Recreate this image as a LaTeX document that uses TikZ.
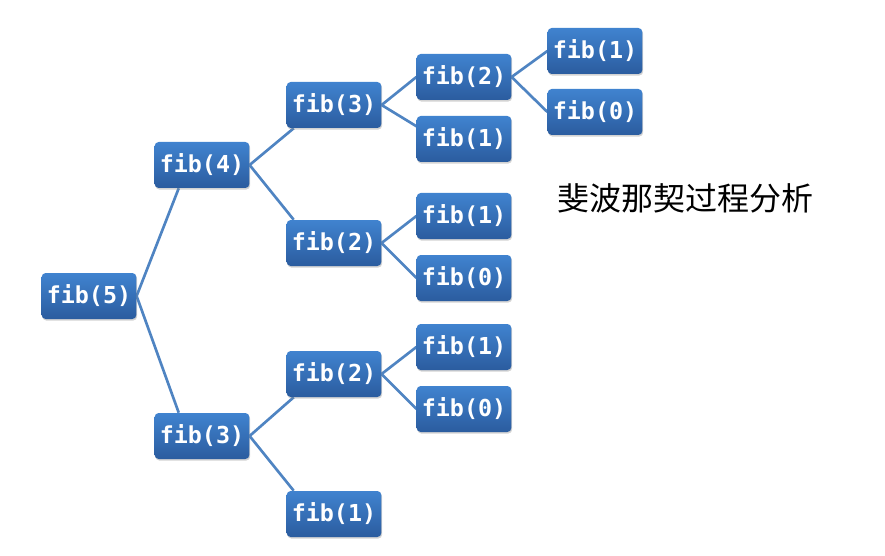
\documentclass[tikz,border=0pt]{standalone}
\usepackage{fontspec}
\newfontfamily\fibfont{DejaVu Sans Mono}
\newfontfamily\cjk{Noto Sans CJK SC}
\usepackage{tikz}
\usetikzlibrary{shadows,backgrounds}

\definecolor{boxtop}{HTML}{4083CF}
\definecolor{boxbot}{HTML}{2B5C9F}
\definecolor{linkblue}{HTML}{4F84C2}

\begin{document}
\begin{tikzpicture}[x=0.75pt, y=-0.75pt,
    call/.style={rectangle, rounded corners=3pt, minimum width=71pt, minimum height=34.5pt,
        top color=boxtop, bottom color=boxbot, draw=none, text=white, inner sep=1pt,
        font=\fibfont\bfseries\fontsize{17.5}{20}\selectfont,
        drop shadow={opacity=0.35, shadow xshift=0.6pt, shadow yshift=-1.2pt}},
    link/.style={draw=linkblue, line width=2pt}]
    \useasboundingbox (0,0) rectangle (885,556);
    % Nodes
    \node[call] (f5) at (89,296) {fib(5)};
    \node[call] (f4) at (202,165) {fib(4)};
    \node[call] (f3a) at (334,105) {fib(3)};
    \node[call] (f2a) at (464,77) {fib(2)};
    \node[call] (f1a) at (595,51) {fib(1)};
    \node[call] (f0a) at (595,112) {fib(0)};
    \node[call] (f1b) at (464,139) {fib(1)};
    \node[call] (f2b) at (334,243) {fib(2)};
    \node[call] (f1c) at (464,216) {fib(1)};
    \node[call] (f0b) at (464,278) {fib(0)};
    \node[call] (f3b) at (202,436) {fib(3)};
    \node[call] (f2c) at (334,374) {fib(2)};
    \node[call] (f1d) at (464,347) {fib(1)};
    \node[call] (f0c) at (464,409) {fib(0)};
    \node[call] (f1e) at (334,514) {fib(1)};
    \node (title) at (685,198) {\cjk\fontsize{24}{27}\selectfont 斐波那契过程分析};

    % Links
    \begin{scope}[on background layer]
    \draw[link] (f5.east) -- (f4.225);
    \draw[link] (f5.east) -- (f3b.135);
    \draw[link] (f4.east) -- (f3a.210);
    \draw[link] (f4.east) -- (f2b.150);
    \draw[link] (f3a.east) -- (f2a.west);
    \draw[link] (f3a.east) -- (f1b.165);
    \draw[link] (f2a.east) -- (f1a.west);
    \draw[link] (f2a.east) -- (f0a.west);
    \draw[link] (f2b.east) -- (f1c.west);
    \draw[link] (f2b.east) -- (f0b.west);
    \draw[link] (f3b.east) -- (f2c.210);
    \draw[link] (f3b.east) -- (f1e.150);
    \draw[link] (f2c.east) -- (f1d.west);
    \draw[link] (f2c.east) -- (f0c.west);
    \end{scope}
\end{tikzpicture}
\end{document}
